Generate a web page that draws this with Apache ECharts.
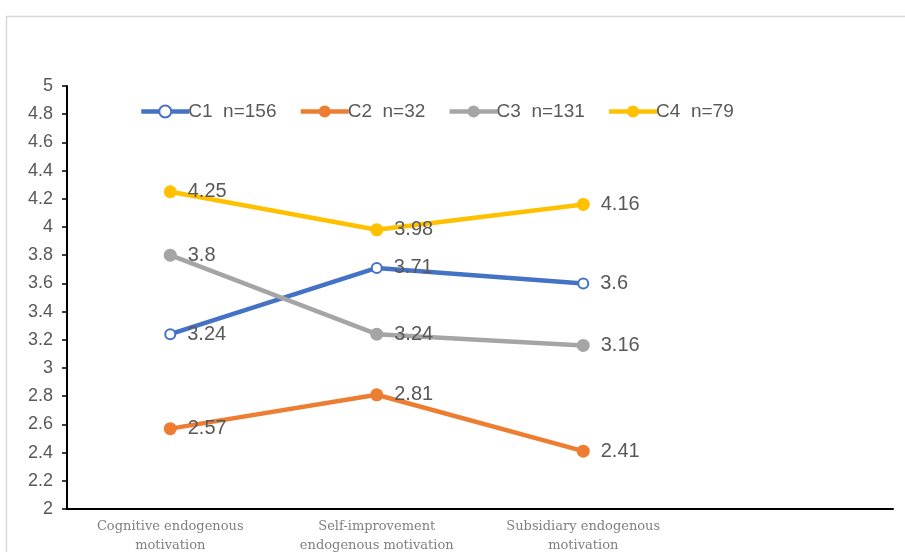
<!DOCTYPE html>
<html>
<head>
<meta charset="utf-8">
<script src="https://cdn.jsdelivr.net/npm/echarts@6/dist/echarts.min.js"></script>
<style>
  html, body { margin: 0; padding: 0; background: #fff; }
  #chart { width: 905px; height: 552px; }
</style>
</head>
<body>
<div id="chart"></div>
<script>
// categories (last slot is left empty, as in the original sheet)
const categories = [
    'Cognitive endogenous\nmotivation',
    'Self-improvement\nendogenous motivation',
    'Subsidiary endogenous\nmotivation',
    ''
];
const seriesNames = ['C1  n=156', 'C2  n=32', 'C3  n=131', 'C4  n=79'];
const c1 = [3.24, 3.71, 3.6];
const c2 = [2.57, 2.81, 2.41];
const c3 = [3.8, 3.24, 3.16];
const c4 = [4.25, 3.98, 4.16];
const colors = ['#4472C4', '#ED7D31', '#A5A5A5', '#FFC000'];

const chart = echarts.init(document.getElementById('chart'));

const makeSeries = (name, data, color, symbol) => ({
    name: name,
    type: 'line',
    data: data,
    symbol: symbol,
    symbolSize: symbol === 'emptyCircle' ? 10 : 13,
    lineStyle: { color: color, width: 4.5 },
    itemStyle: { color: color, borderWidth: symbol === 'emptyCircle' ? 2 : 0 },
    label: {
        show: true,
        position: 'right',
        distance: 11,
        color: '#595959',
        fontSize: 20,
        fontFamily: 'Liberation Sans, Arial, sans-serif'
    },
    emphasis: { disabled: true },
    z: 3
});

const option = {
    animation: false,
    textStyle: { fontFamily: 'Liberation Sans, Arial, sans-serif' },
    graphic: [{
        type: 'rect',
        shape: { x: 6.5, y: 16.5, width: 920, height: 560 },
        style: { fill: 'none', stroke: '#d9d9d9', lineWidth: 1.5 },
        silent: true
    }],
    grid: { left: 67, right: 12, top: 86, bottom: 43, outerBoundsMode: 'none' },
    legend: {
        top: 97,
        left: 134,
        itemWidth: 48,
        itemHeight: 15,
        itemGap: 22,
        lineStyle: { width: 4.5 },
        textStyle: { color: '#595959', fontSize: 19, padding: [0, 0, 0, -6] },
        data: seriesNames
    },
    xAxis: {
        type: 'category',
        data: categories,
        boundaryGap: true,
        axisLine: { lineStyle: { color: '#000', width: 2 } },
        axisTick: { show: false },
        axisLabel: {
            color: '#7f7f7f',
            fontSize: 13,
            fontFamily: 'DejaVu Serif, Liberation Serif, serif',
            lineHeight: 19,
            margin: 8,
            interval: 0
        },
        splitLine: { show: false }
    },
    yAxis: {
        type: 'value',
        min: 2,
        max: 5,
        interval: 0.2,
        axisLine: { show: true, lineStyle: { color: '#000', width: 2 } },
        axisTick: { show: true, length: 5, lineStyle: { color: '#000', width: 1.5 } },
        axisLabel: {
            color: '#595959',
            fontSize: 18,
            margin: 14,
            formatter: v => String(Math.round(v * 10) / 10)
        },
        splitLine: { show: false }
    },
    series: [
        makeSeries(seriesNames[0], c1, colors[0], 'emptyCircle'),
        makeSeries(seriesNames[1], c2, colors[1], 'circle'),
        makeSeries(seriesNames[2], c3, colors[2], 'circle'),
        makeSeries(seriesNames[3], c4, colors[3], 'circle')
    ]
};

chart.setOption(option);
</script>
</body>
</html>
